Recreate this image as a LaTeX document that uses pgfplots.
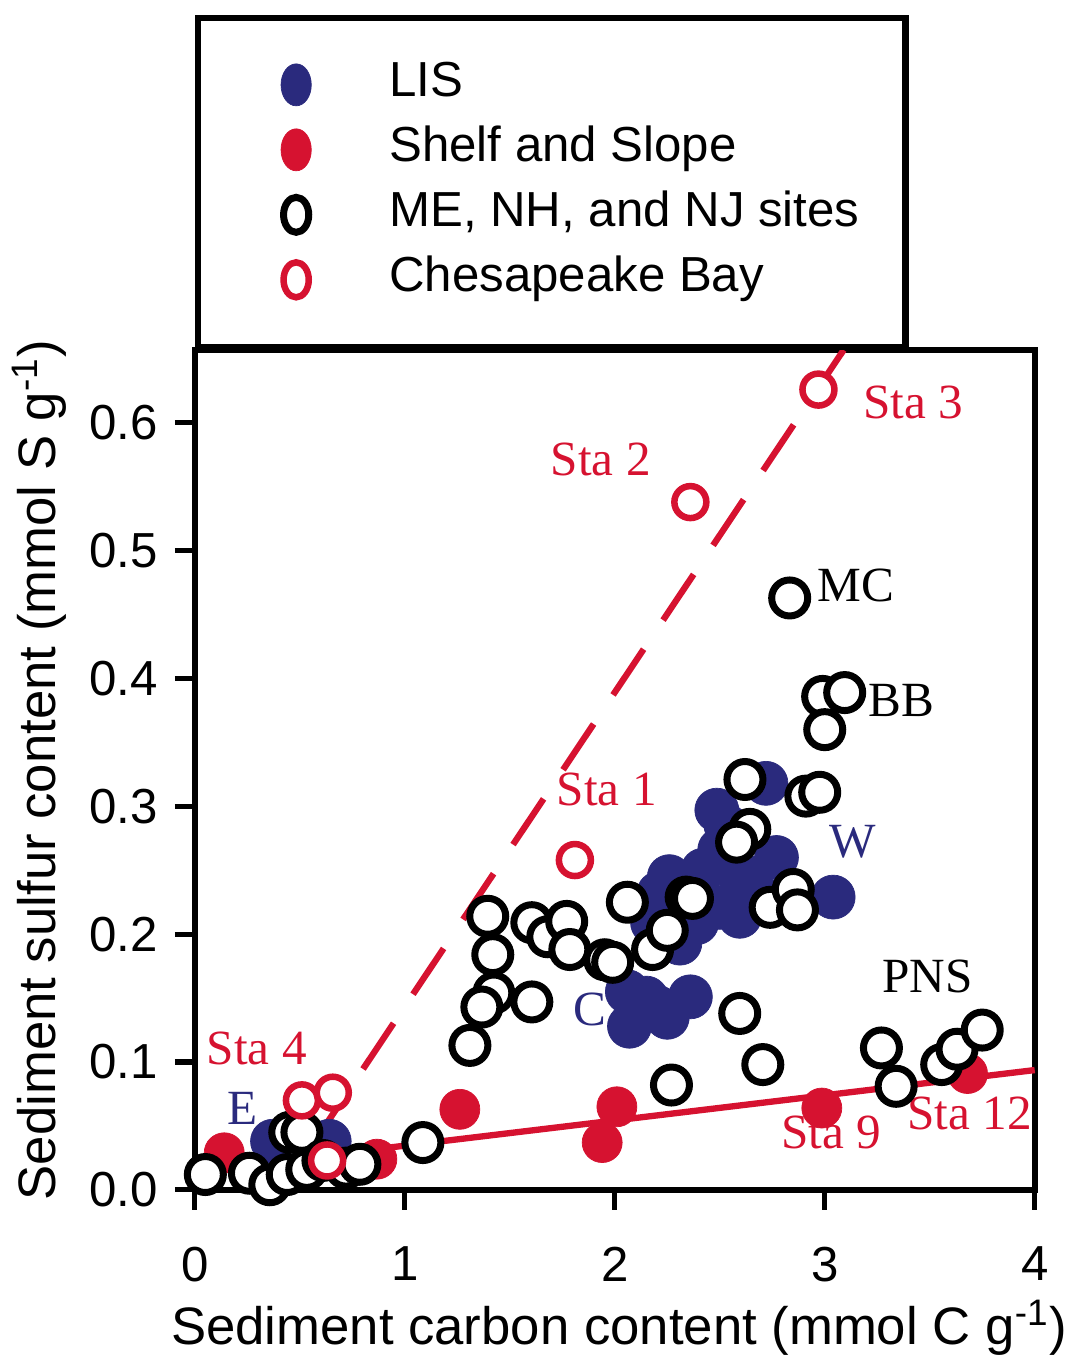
\documentclass[border=0pt]{standalone}
\usepackage{fontspec}
\setmainfont{Liberation Sans}
\newfontfamily\tms{Liberation Serif}
\usepackage{pgfplots}
\pgfplotsset{compat=1.18}
\definecolor{lisblue}{RGB}{42,42,125}
\definecolor{cbred}{RGB}{214,18,48}
\pgfplotsset{dotlegend/.style={legend image code/.code={%
  \draw[##1, mark size=#1, every mark/.append style={xscale=0.72}] plot coordinates {(0.49cm,0cm)};
  \path (0cm,-0.18cm) (1.39cm,0.18cm);}}}

\begin{document}
\fontsize{14pt}{16pt}\selectfont
\begin{tikzpicture}
\begin{axis}[
  scale only axis, width=84mm, height=84mm,
  xmin=0, xmax=4, ymin=0, ymax=0.657,
  clip=false,
  axis line style={line width=1.8pt},
  xtick={0,1,2,3,4}, ytick={0,0.1,0.2,0.3,0.4,0.5,0.6},
  xtick pos=left, ytick pos=left,
  tick align=outside, major tick length=2mm,
  tick style={line width=1.5pt, black},
  /pgf/number format/assume math mode=true,
  yticklabel style={/pgf/number format/.cd, fixed, fixed zerofill, precision=1},
  xticklabel style={yshift=-2mm},
  xlabel={Sediment carbon content (mmol C g\textsuperscript{-1})},
  ylabel={Sediment sulfur content (mmol S g\textsuperscript{-1})},
  label style={font=\fontsize{15pt}{17pt}\selectfont, inner sep=0pt},
  xlabel style={at={(axis description cs:0.505,-0.164)}, anchor=center},
  ylabel style={at={(axis description cs:-0.185,0.5)}, anchor=center},
  legend style={at={(axis description cs:0,1)}, anchor=south west,
    draw=black, line width=1.8pt, inner xsep=4.6mm, inner ysep=4.3mm,
    row sep=1.7mm, column sep=0pt,
    nodes={inner sep=0pt, text height=3.6mm, text depth=1.2mm},
    cells={anchor=west}},
]
% LIS
\addplot[only marks, mark=*, mark size=2.2mm,
  mark options={fill=lisblue, draw=lisblue, line width=0.2pt}, dotlegend=2.1mm]
  coordinates {(0.37,0.038)(0.5,0.045)(0.64,0.038)
  (2.06,0.155)(2.07,0.128)(2.15,0.15)(2.2,0.143)(2.25,0.135)(2.36,0.151)
  (2.72,0.318)(2.486,0.297)(2.53,0.285)(2.77,0.26)(3.04,0.229)
  (2.26,0.245)(2.42,0.25)(2.58,0.25)(2.66,0.235)(2.5,0.221)(2.39,0.209)
  (2.31,0.193)(2.18,0.209)(2.595,0.214)(2.21,0.232)(2.5,0.266)(2.36,0.23)};
\addlegendentry{LIS}
% Shelf and Slope
\addplot[only marks, mark=*, mark size=2.0mm,
  mark options={fill=cbred, draw=cbred, line width=0.2pt}, dotlegend=2.1mm]
  coordinates {(0.14,0.029)(0.867,0.024)(1.262,0.063)(1.94,0.037)
  (2.01,0.065)(2.986,0.064)(3.68,0.091)};
\addlegendentry{Shelf and Slope}
% fit line, shelf and slope
\addplot[cbred, line width=1.8pt, forget plot] coordinates {(0.55,0.0257)(4,0.0937)};
% ME, NH, NJ
\addplot[only marks, mark=*, mark size=1.8mm,
  mark options={fill=white, draw=black, line width=0.7mm}, dotlegend=1.75mm]
  coordinates {(0.05,0.012)(0.26,0.013)(0.357,0.004)(0.452,0.045)(0.51,0.045)
  (0.44,0.012)(0.533,0.016)(0.61,0.023)(0.72,0.017)(0.786,0.02)(1.086,0.037)
  (1.395,0.214)(1.419,0.184)(1.424,0.154)(1.367,0.143)(1.31,0.113)(1.605,0.147)
  (1.605,0.209)(1.681,0.198)(1.771,0.210)(1.786,0.188)(1.952,0.180)(1.99,0.178)
  (2.06,0.225)(2.18,0.188)(2.25,0.203)(2.34,0.229)(2.37,0.228)
  (2.27,0.082)(2.595,0.138)(2.705,0.098)
  (2.62,0.321)(2.643,0.282)(2.58,0.272)(2.91,0.308)(2.976,0.311)
  (2.74,0.221)(2.85,0.235)(2.87,0.219)
  (2.833,0.463)(2.99,0.386)(3.095,0.389)(3.0,0.36)
  (3.27,0.111)(3.34,0.081)(3.557,0.098)(3.63,0.11)(3.75,0.125)};
\addlegendentry{ME, NH, and NJ sites}
% fit line, Chesapeake Bay (drawn from the top down)
\addplot[cbred, line width=1.8pt, dash pattern=on 5.5mm off 3.5mm, forget plot]
  coordinates {(3.09,0.657)(0.40,-0.004)};
% Chesapeake Bay
\addplot[only marks, mark=*, mark size=1.6mm,
  mark options={fill=white, draw=cbred, line width=0.65mm}, dotlegend=1.75mm]
  coordinates {(0.51,0.070)(0.657,0.076)(0.63,0.023)(1.81,0.258)(2.36,0.538)(2.97,0.626)};
\addlegendentry{Chesapeake Bay}
% labels
\begin{scope}[every node/.style={font=\tms, inner sep=0pt}]
\node[text=cbred] at (axis cs:3.42,0.616) {Sta 3};
\node[text=cbred] at (axis cs:1.933,0.571) {Sta 2};
\node[text=cbred] at (axis cs:1.962,0.313) {Sta 1};
\node[text=cbred] at (axis cs:0.295,0.111) {Sta 4};
\node[text=cbred] at (axis cs:3.03,0.045) {Sta 9};
\node[text=cbred] at (axis cs:3.69,0.060) {Sta 12};
\node[text=black] at (axis cs:3.148,0.473) {MC};
\node[text=black] at (axis cs:3.367,0.383) {BB};
\node[text=black] at (axis cs:3.49,0.167) {PNS};
\node[text=lisblue] at (axis cs:3.133,0.272) {W};
\node[text=lisblue] at (axis cs:1.88,0.141) {C};
\node[text=lisblue] at (axis cs:0.229,0.064) {E};
\end{scope}
\coordinate (bbA) at (axis description cs:-0.232,-0.199);
\coordinate (bbB) at (axis description cs:1.039,1.4167);
\end{axis}
\path (bbA) rectangle (bbB);
\end{tikzpicture}
\end{document}
